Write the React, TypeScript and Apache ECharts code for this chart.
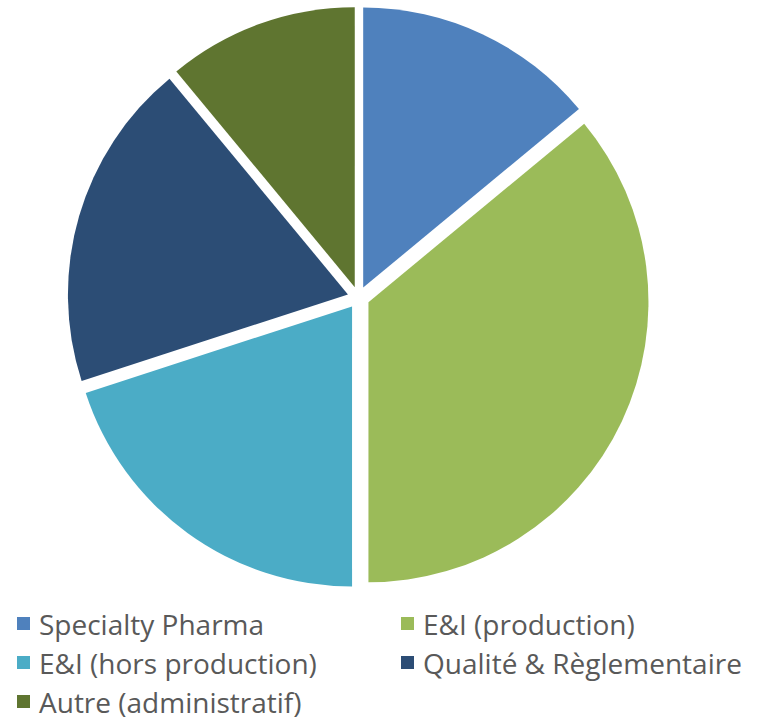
import React, { useEffect, useRef } from "react";
import * as echarts from "echarts";

const categories = [
  "Specialty Pharma",
  "E&I (production)",
  "E&I (hors production)",
  "Qualité & Règlementaire",
  "Autre (administratif)",
];
const values = [14, 36, 20, 19, 11];
const colors = ["#4F81BD", "#9BBB59", "#4BACC6", "#2C4D75", "#5F7530"];
const legendCol1 = ["Specialty Pharma", "E&I (hors production)", "Autre (administratif)"];
const legendCol2 = ["E&I (production)", "Qualité & Règlementaire"];

const CX = 358.5;
const CY = 297.5;
const R = 280;
const EXPLODE = 11;

export default function App() {
  const ref = useRef<HTMLDivElement>(null);
  useEffect(() => {
    if (!ref.current) return;
    const chart = echarts.init(ref.current, undefined, { renderer: "svg" });
    const total = values.reduce((a, b) => a + b, 0);
    let cum = 0;
    const series = values.map((v, i) => {
      const startDeg = (cum / total) * 360;
      const midDeg = ((cum + v / 2) / total) * 360;
      cum += v;
      const rad = (midDeg * Math.PI) / 180;
      const dx = Math.sin(rad) * EXPLODE;
      const dy = -Math.cos(rad) * EXPLODE;
      return {
        type: "pie",
        center: [CX + dx, CY + dy],
        radius: [0, R],
        startAngle: 90 - startDeg,
        clockwise: true,
        label: { show: false },
        labelLine: { show: false },
        emphasis: { disabled: true },
        silent: true,
        data: [
          { name: categories[i], value: v, itemStyle: { color: colors[i] } },
          {
            name: "__rest" + i,
            value: total - v,
            itemStyle: { color: "rgba(0,0,0,0)" },
          },
        ],
      };
    });
    const legendBase = {
      orient: "vertical",
      top: 608.5,
      height: 120,
      itemWidth: 13,
      itemHeight: 13,
      itemGap: 9,
      padding: 0,
      icon: "rect",
      selectedMode: false,
      textStyle: {
        fontFamily: "'Open Sans', 'Noto Sans', sans-serif",
        fontSize: 28,
        color: "#595959",
        lineHeight: 30,
        padding: [0, 0, 0, 4],
      },
    };
    chart.setOption({
      animation: false,
      backgroundColor: "#ffffff",
      legend: [
        { ...legendBase, left: 17, data: legendCol1 },
        { ...legendBase, left: 401, data: legendCol2 },
      ],
      series,
    });
    return () => chart.dispose();
  }, []);
  return (
    <div
      ref={ref}
      style={{ position: "fixed", left: 0, top: 0, width: 765, height: 717 }}
    />
  );
}
